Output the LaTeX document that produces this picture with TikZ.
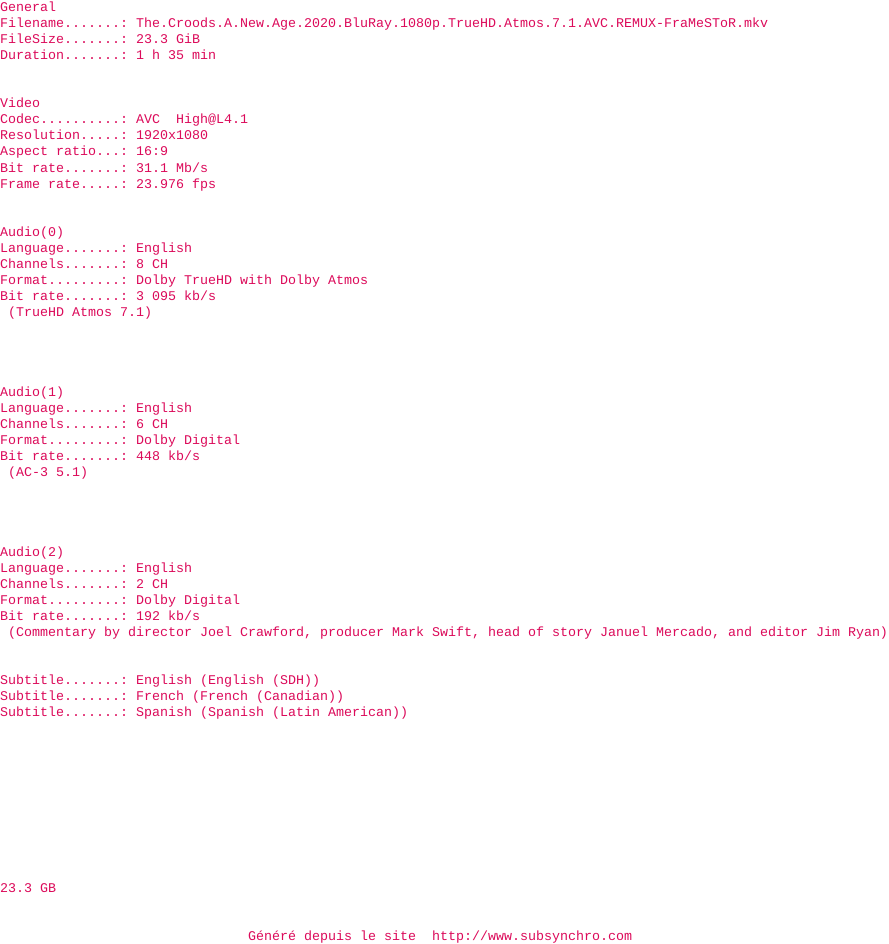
\documentclass[tikz,border=0pt]{standalone}
\usepackage{fontspec}
\setmonofont{Liberation Mono}
\definecolor{rose}{RGB}{220,10,90}
\begin{document}
\begin{tikzpicture}[x=1pt,y=-1pt,ligne/.style={anchor=base west,inner sep=0pt,text=rose,font=\ttfamily\fontsize{13.33}{16}\selectfont}]
					\useasboundingbox[fill=white] (0,0) rectangle (888,944);
					% General
					\node[ligne] (gen) at (0,12) {General};
					\node[ligne] (fname) at (0,28) {Filename.......: The.Croods.A.New.Age.2020.BluRay.1080p.TrueHD.Atmos.7.1.AVC.REMUX-FraMeSToR.mkv};
					\node[ligne] (fsize) at (0,44) {FileSize.......: 23.3 GiB};
					\node[ligne] (dur) at (0,60) {Duration.......: 1 h 35 min};
					% Video
					\node[ligne] (vid) at (0,108) {Video};
					\node[ligne] (codec) at (0,124) {Codec..........: AVC ~High@L4.1};
					\node[ligne] (reso) at (0,140) {Resolution.....: 1920x1080};
					\node[ligne] (ratio) at (0,156) {Aspect ratio...: 16:9};
					\node[ligne] (vbit) at (0,172) {Bit rate.......: 31.1 Mb/s};
					\node[ligne] (frame) at (0,188) {Frame rate.....: 23.976 fps};
					% Audio(0)
					\node[ligne] (auA) at (0,236) {Audio(0)};
					\node[ligne] (langA) at (0,252) {Language.......: English};
					\node[ligne] (chanA) at (0,268) {Channels.......: 8 CH};
					\node[ligne] (formA) at (0,284) {Format.........: Dolby TrueHD with Dolby Atmos};
					\node[ligne] (bitA) at (0,300) {Bit rate.......: 3 095 kb/s};
					\node[ligne] (noteA) at (8,316) {(TrueHD Atmos 7.1)};
					% Audio(1)
					\node[ligne] (auB) at (0,396) {Audio(1)};
					\node[ligne] (langB) at (0,412) {Language.......: English};
					\node[ligne] (chanB) at (0,428) {Channels.......: 6 CH};
					\node[ligne] (formB) at (0,444) {Format.........: Dolby Digital};
					\node[ligne] (bitB) at (0,460) {Bit rate.......: 448 kb/s};
					\node[ligne] (noteB) at (8,476) {(AC-3 5.1)};
					% Audio(2)
					\node[ligne] (auC) at (0,556) {Audio(2)};
					\node[ligne] (langC) at (0,572) {Language.......: English};
					\node[ligne] (chanC) at (0,588) {Channels.......: 2 CH};
					\node[ligne] (formC) at (0,604) {Format.........: Dolby Digital};
					\node[ligne] (bitC) at (0,620) {Bit rate.......: 192 kb/s};
					\node[ligne] (noteC) at (8,636) {(Commentary by director Joel Crawford, producer Mark Swift, head of story Januel Mercado, and editor Jim Ryan)};
					% Subtitles
					\node[ligne] (subA) at (0,684) {Subtitle.......: English (English (SDH))};
					\node[ligne] (subB) at (0,700) {Subtitle.......: French (French (Canadian))};
					\node[ligne] (subC) at (0,716) {Subtitle.......: Spanish (Spanish (Latin American))};
					\node[ligne] (total) at (0,892) {23.3 GB};
					\node[ligne] (site) at (248,940) {Généré depuis le site ~http://www.subsynchro.com};
				\end{tikzpicture}
\end{document}
